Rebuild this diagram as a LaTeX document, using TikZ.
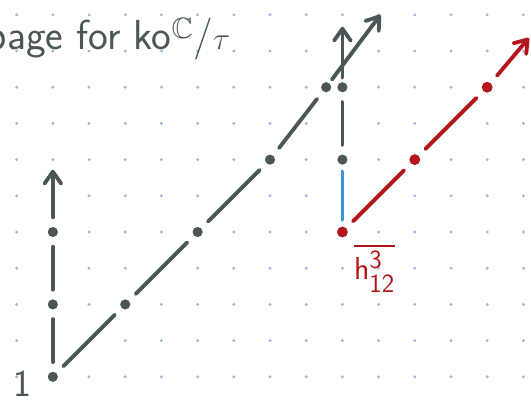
\documentclass[tikz,border=0pt]{standalone}
\usepackage{amssymb}
\usetikzlibrary{arrows.meta}
\definecolor{pen}{HTML}{4B5757}
\definecolor{penred}{HTML}{B3151B}
\definecolor{penblue}{HTML}{3A98D8}
\definecolor{gridpt}{HTML}{A4B6D8}
\tikzset{
  gdotnode/.style={circle, fill=pen, inner sep=0pt, minimum size=2.8mm},
  rdotnode/.style={circle, fill=penred, inner sep=0pt, minimum size=3mm},
  seg/.style={line width=3pt, line cap=round, color=pen,
              shorten <=2.6mm, shorten >=2.6mm},
  rseg/.style={seg, color=penred},
  bseg/.style={seg, color=penblue},
  arr/.style={seg, -{Straight Barb[length=3.3mm, width=4.6mm, round]}, shorten >=0pt},
  rarr/.style={arr, color=penred}}

\begin{document}
\begin{tikzpicture}
  \useasboundingbox (-0.46,-0.69) rectangle (14.21,10.41);
  % dotted paper
  \foreach \i in {0,...,14}
    \foreach \j in {0,...,10}
      \fill[gridpt] (\i,\j) circle (0.045);
  \node[anchor=base west, text=pen, font=\fontsize{33}{36}\selectfont\sffamily] (title)
    at (-0.95,9.03) {page for ko$^{\mathbb{C}}$/$\tau$};
  % gray tower and diagonal
  \node[gdotnode] (v0) at (1,0) {};
  \node[gdotnode] (v2) at (1,2) {};
  \node[gdotnode] (v4) at (1,4) {};
  \node[gdotnode] (d2) at (3,2) {};
  \node[gdotnode] (d4) at (5,4) {};
  \node[gdotnode] (d6) at (7,6) {};
  \node[gdotnode] (d8) at (8.55,8) {};
  \node[gdotnode] (c8) at (9,8) {};
  \node[gdotnode] (c6) at (9,6) {};
  \coordinate (vtip) at (1,5.72);
  \coordinate (dtip) at (10.05,10);
  \coordinate (ctip) at (9,9.67);
  \node[text=pen, font=\fontsize{30}{32}\selectfont\sffamily] (one) at (0.15,-0.2) {1};
  \draw[seg] (v0) -- (v2);
  \draw[seg] (v2) -- (v4);
  \draw[arr] (v4) -- (vtip);
  \draw[seg] (v0) -- (d2);
  \draw[seg] (d2) -- (d4);
  \draw[seg] (d4) -- (d6);
  \draw[seg] (d6) -- (d8);
  \draw[arr, shorten <=1.2mm] (d8) -- (dtip);
  \draw[arr, shorten <=1.2mm] (c8) -- (ctip);
  \draw[seg] (c8) -- (c6);
  % red line from h_12^3
  \node[rdotnode] (r4) at (9,4) {};
  \node[rdotnode] (r6) at (11,6) {};
  \node[rdotnode] (r8) at (13,8) {};
  \coordinate (rtip) at (14.15,9.36);
  \draw[bseg, shorten <=1.8mm, shorten >=1.8mm] (c6) -- (r4);
  \draw[rseg] (r4) -- (r6);
  \draw[rseg] (r6) -- (r8);
  \draw[rarr] (r8) -- (rtip);
  \node[anchor=base west, text=penred, font=\fontsize{30}{32}\selectfont]
    (hlabel) at (9.2,2.68) {$\overline{\mathsf{h}_{\mathsf{12}}^{\mathsf{3}}}$};
\end{tikzpicture}
\end{document}
